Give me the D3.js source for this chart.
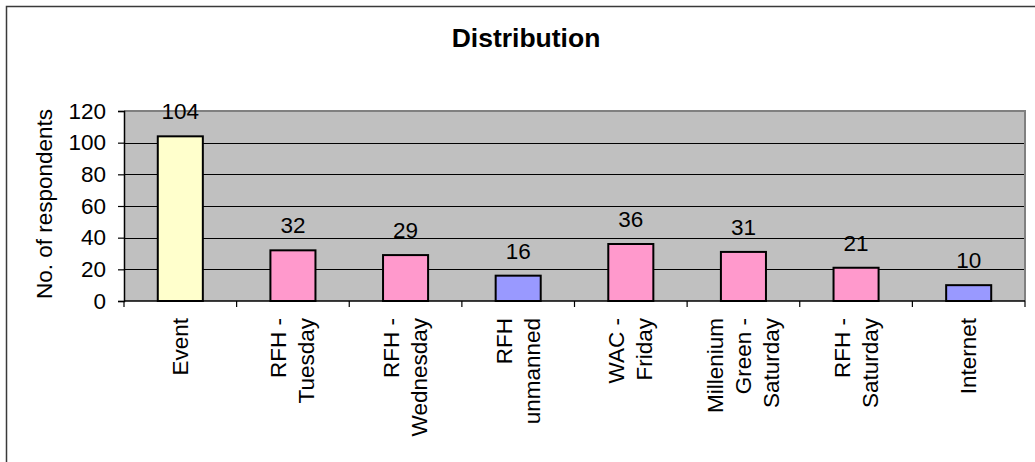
<!DOCTYPE html>
<html>
<head>
<meta charset="utf-8">
<script src="https://cdn.jsdelivr.net/npm/d3@7"></script>
<style>
  html, body { margin: 0; padding: 0; background: #fff; }
  svg { display: block; }
  text { font-family: "Liberation Sans", Arial, sans-serif; fill: #000; }
</style>
</head>
<body>
<svg id="chart" width="1035" height="462"></svg>
<script>
// ---- data ----
const categories = [
  "Event",
  "RFH - Tuesday",
  "RFH - Wednesday",
  "RFH unmanned",
  "WAC - Friday",
  "Millenium Green - Saturday",
  "RFH - Saturday",
  "Internet"
];
const categoryLines = [
  ["Event"],
  ["RFH -", "Tuesday"],
  ["RFH -", "Wednesday"],
  ["RFH", "unmanned"],
  ["WAC -", "Friday"],
  ["Millenium", "Green -", "Saturday"],
  ["RFH -", "Saturday"],
  ["Internet"]
];
const values = [104, 32, 29, 16, 36, 31, 21, 10];
const groups = ["event", "staffed", "staffed", "unmanned", "staffed", "staffed", "staffed", "unmanned"];
const yTicks = [0, 20, 40, 60, 80, 100, 120];
const chartTitle = "Distribution";
const yTitle = "No. of respondents";

// ---- styles ----
const groupColor = { event: "#FFFFCC", staffed: "#FF99CC", unmanned: "#9999FF" };
const fs = 22.5;

const svg = d3.select("#chart");
const plot = { left: 124, right: 1025, top: 111, bottom: 301 };

// outer chart border (clipped at right/bottom)
svg.append("rect")
  .attr("x", 6.5).attr("y", 6.5)
  .attr("width", 1100).attr("height", 600)
  .attr("fill", "#fff").attr("stroke", "#3a3a3a").attr("stroke-width", 1.5);

const x = d3.scaleBand().domain(categories)
  .range([plot.left, plot.right]).paddingInner(0.6).paddingOuter(0.3);
const y = d3.scaleLinear().domain([0, 120]).range([plot.bottom, plot.top]);

// plot background
svg.append("rect")
  .attr("x", plot.left).attr("y", plot.top)
  .attr("width", plot.right - plot.left).attr("height", plot.bottom - plot.top)
  .attr("fill", "#C0C0C0");

// gridlines
svg.append("g").selectAll("line")
  .data(yTicks.filter(t => t > 0 && t < 120))
  .join("line")
  .attr("x1", plot.left).attr("x2", plot.right)
  .attr("y1", d => Math.round(y(d)) + 0.5).attr("y2", d => Math.round(y(d)) + 0.5)
  .attr("stroke", "#000").attr("stroke-width", 1);

// plot border top/right (gray)
svg.append("path")
  .attr("d", `M${plot.left},${plot.top} H${plot.right} V${plot.bottom}`)
  .attr("fill", "none").attr("stroke", "#808080").attr("stroke-width", 2);

// bars
svg.append("g").selectAll("rect")
  .data(categories)
  .join("rect")
  .attr("x", d => x(d))
  .attr("y", (d, i) => y(values[i]))
  .attr("width", x.bandwidth())
  .attr("height", (d, i) => y(0) - y(values[i]))
  .attr("fill", (d, i) => groupColor[groups[i]])
  .attr("stroke", "#000").attr("stroke-width", 2);

// value labels
svg.append("g").selectAll("text")
  .data(categories)
  .join("text")
  .attr("x", d => x(d) + x.bandwidth() / 2)
  .attr("y", (d, i) => y(values[i]) - 17)
  .attr("text-anchor", "middle")
  .attr("font-size", fs)
  .text((d, i) => values[i]);

// y axis
const yAxis = d3.axisLeft(y).tickValues(yTicks).tickSize(6).tickPadding(12);
const yg = svg.append("g").attr("transform", `translate(${plot.left},0)`).call(yAxis);
yg.select(".domain").attr("stroke", "#000").attr("stroke-width", 1.5);
yg.selectAll(".tick line").attr("stroke", "#000").attr("stroke-width", 1.2);
yg.selectAll(".tick text").attr("font-size", fs).attr("font-family", "Liberation Sans, Arial, sans-serif").attr("fill", "#000");

// x axis line + ticks at band boundaries
svg.append("line")
  .attr("x1", plot.left).attr("x2", plot.right)
  .attr("y1", plot.bottom).attr("y2", plot.bottom)
  .attr("stroke", "#000").attr("stroke-width", 1.5);
const boundaries = categories.map(c => x(c) - x.step() * x.paddingInner() / 2)
  .concat([plot.right]);
boundaries[0] = plot.left;
svg.append("g").selectAll("line")
  .data(boundaries)
  .join("line")
  .attr("x1", d => d).attr("x2", d => d)
  .attr("y1", plot.bottom).attr("y2", plot.bottom + 6)
  .attr("stroke", "#000").attr("stroke-width", 1.2);

// x labels (rotated, multi-line)
const lineH = 28;
const xl = svg.append("g").selectAll("g")
  .data(categories)
  .join("g")
  .attr("transform", d => `translate(${x(d) + x.bandwidth() / 2},318) rotate(-90)`);
xl.each(function(d, i) {
  const lines = categoryLines[i];
  const n = lines.length;
  d3.select(this).selectAll("text")
    .data(lines)
    .join("text")
    .attr("x", 0)
    .attr("y", (l, j) => 7.5 + (j - (n - 1) / 2) * lineH)
    .attr("text-anchor", "end")
    .attr("font-size", fs)
    .text(l => l);
});

// title
svg.append("text")
  .attr("x", 526).attr("y", 47)
  .attr("text-anchor", "middle")
  .attr("font-size", 26.5).attr("font-weight", "bold")
  .text(chartTitle);

// y title
svg.append("text")
  .attr("transform", `translate(52,204) rotate(-90)`)
  .attr("text-anchor", "middle")
  .attr("font-size", fs)
  .text(yTitle);
</script>
</body>
</html>
